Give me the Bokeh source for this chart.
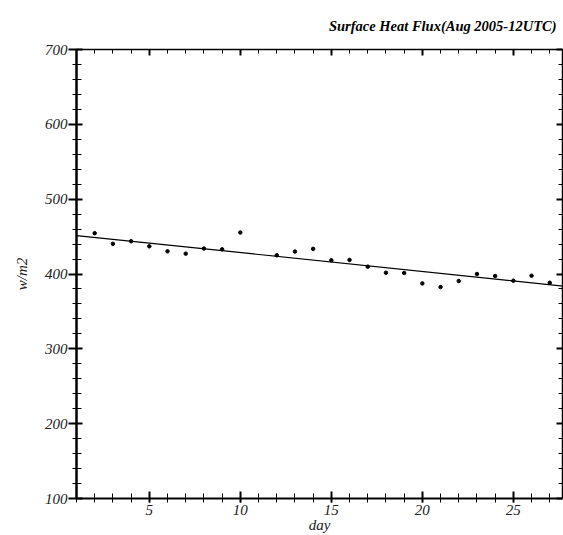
from bokeh.plotting import figure
from bokeh.models import Range1d, LinearAxis, SingleIntervalTicker, Title
from bokeh.embed import file_html
from bokeh.resources import INLINE

# Data
days = [2, 3, 4, 5, 6, 7, 8, 9, 10, 12, 13, 14, 15, 16, 17, 18, 19, 20, 21, 22, 23, 24, 25, 26, 27]
flux = [454.5, 440.3, 443.8, 437.0, 430.3, 427.2, 434.0, 433.0, 455.4, 425.0, 430.0, 433.6,
        418.3, 418.8, 409.8, 401.7, 401.3, 387.4, 382.5, 390.6, 400.0, 397.3, 391.0, 397.7, 388.3]
trend_days = [1, 28]
trend_flux = [451.4, 383.1]

title_text = "Surface Heat Flux(Aug 2005-12UTC)"
x_label = "day"
y_label = "w/m2"

FONT = "Liberation Serif"

p = figure(width=563, height=535, x_range=Range1d(1, 27.7), y_range=Range1d(100, 700),
           output_backend="svg", toolbar_location=None, title=None,
           x_axis_type=None, y_axis_type=None,
           min_border_left=76, min_border_right=1, min_border_top=49, min_border_bottom=36,
           background_fill_color="white", border_fill_color="white")
p.outline_line_color = None
p.xgrid.visible = False
p.ygrid.visible = False

def style_axis(ax, labels=True, tin=6, tout=7, min_in=4, min_out=4, lw=2):
    ax.axis_line_width = lw
    ax.axis_line_color = "black"
    ax.major_tick_line_color = "black"
    ax.minor_tick_line_color = "black"
    ax.major_tick_line_width = 2
    ax.minor_tick_line_width = 1
    ax.major_tick_in = tin
    ax.major_tick_out = tout
    ax.minor_tick_in = min_in
    ax.minor_tick_out = min_out
    ax.major_label_text_font = FONT
    ax.major_label_text_font_style = "italic"
    ax.major_label_text_font_size = "15px"
    ax.major_label_text_color = "#222222"
    ax.axis_label_text_font = FONT
    ax.axis_label_text_font_style = "italic"
    ax.axis_label_text_font_size = "15px"
    ax.axis_label_text_color = "#222222"
    if not labels:
        ax.major_label_text_color = None
        ax.major_label_text_font_size = "1px"
        ax.major_label_standoff = 0

xb = LinearAxis(ticker=SingleIntervalTicker(interval=5, num_minor_ticks=5), axis_label=x_label)
style_axis(xb, tin=7, tout=4, min_in=5, min_out=4, lw=2)
xb.major_label_standoff = 2
xb.axis_label_standoff = -1
p.add_layout(xb, "below")

yl = LinearAxis(ticker=SingleIntervalTicker(interval=100, num_minor_ticks=5), axis_label=y_label)
style_axis(yl, tin=6, tout=8, min_in=5, min_out=4, lw=2.5)
yl.major_label_standoff = 1
yl.axis_label_standoff = 12
p.add_layout(yl, "left")

xt = LinearAxis(ticker=SingleIntervalTicker(interval=5, num_minor_ticks=5))
style_axis(xt, labels=False, tin=6, tout=0, min_in=4, min_out=0, lw=1.5)
xt.major_label_standoff = 11
p.add_layout(xt, "above")

yr = LinearAxis(ticker=SingleIntervalTicker(interval=100, num_minor_ticks=5))
style_axis(yr, labels=False, tin=6, tout=0, min_in=4, min_out=0, lw=1.5)
p.add_layout(yr, "right")

t = Title(text=title_text, align="right", vertical_align="top", text_font=FONT,
          text_font_style="bold italic", text_font_size="14.5px", text_color="black",
          standoff=28, offset=6)
p.add_layout(t, "above")

p.line(trend_days, trend_flux, line_color="black", line_width=1.2)
p.scatter(days, flux, size=3.5, color="black")

open("out.html", "w").write(file_html(p, INLINE))
